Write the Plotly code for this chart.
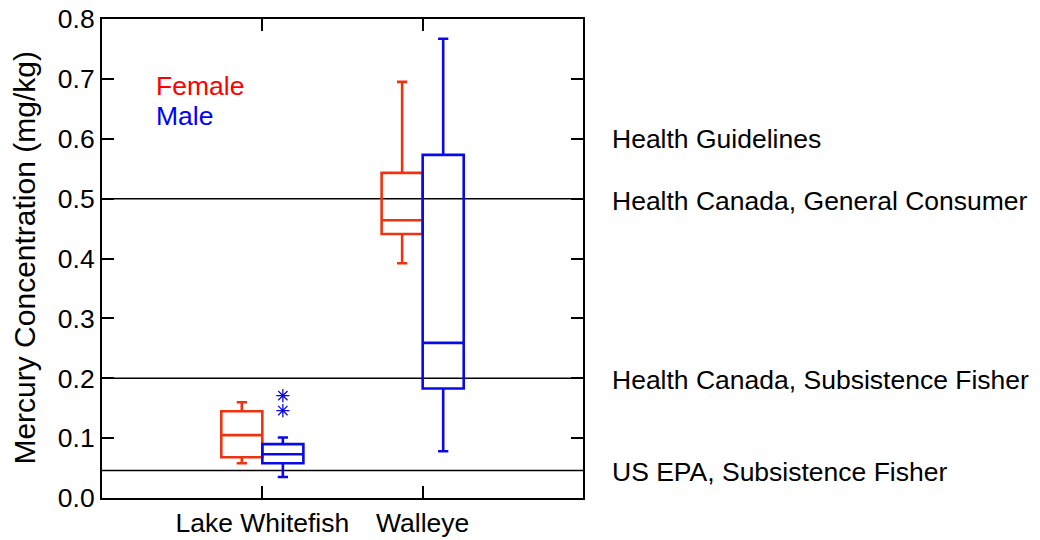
import plotly.graph_objects as go

# ---- data (mg/kg) ----
species = ["Lake Whitefish", "Walleye"]
groups = ["Female", "Male"]

female_lower = [0.058, 0.392]
female_q1 = [0.068, 0.441]
female_median = [0.105, 0.464]
female_q3 = [0.145, 0.543]
female_upper = [0.160, 0.695]

male_lower = [0.035, 0.078]
male_q1 = [0.058, 0.183]
male_median = [0.073, 0.259]
male_q3 = [0.090, 0.573]
male_upper = [0.101, 0.767]

male_outlier_species = ["Lake Whitefish", "Lake Whitefish"]
male_outlier_values = [0.171, 0.146]

guideline_values = [0.5, 0.2, 0.046]
guideline_labels = ["Health Canada, General Consumer",
                    "Health Canada, Subsistence Fisher",
                    "US EPA, Subsistence Fisher"]
guideline_header = "Health Guidelines"
header_value = 0.6

y_ticks = [0.0, 0.1, 0.2, 0.3, 0.4, 0.5, 0.6, 0.7, 0.8]
y_title = "Mercury Concentration (mg/kg)"

# ---- styling ----
FONT = "Liberation Sans, Arial, Helvetica, sans-serif"
FEMALE_COLOR = "#ee3311"
MALE_COLOR = "#0a0ae6"
FEMALE_TEXT = "#ff0000"
MALE_TEXT = "#0000ff"
TXT = 26.5

box_width = 0.256
offset = 0.128
cat_pos = {s: i + 1 for i, s in enumerate(species)}

fig = go.Figure()

fig.add_trace(go.Box(
    x=[cat_pos[s] - offset for s in species],
    lowerfence=female_lower, q1=female_q1, median=female_median,
    q3=female_q3, upperfence=female_upper,
    width=box_width, whiskerwidth=0.25, boxpoints=False,
    line=dict(color=FEMALE_COLOR, width=2.6),
    fillcolor="rgba(0,0,0,0)", name="Female", showlegend=False,
    hoverinfo="skip",
))
fig.add_trace(go.Box(
    x=[cat_pos[s] + offset for s in species],
    lowerfence=male_lower, q1=male_q1, median=male_median,
    q3=male_q3, upperfence=male_upper,
    width=box_width, whiskerwidth=0.25, boxpoints=False,
    line=dict(color=MALE_COLOR, width=2.6),
    fillcolor="rgba(0,0,0,0)", name="Male", showlegend=False,
    hoverinfo="skip",
))
fig.add_trace(go.Scatter(
    x=[cat_pos[s] + offset for s in male_outlier_species],
    y=male_outlier_values, mode="markers",
    marker=dict(symbol="asterisk-open", size=11, color=MALE_COLOR,
                line=dict(color=MALE_COLOR, width=1.3)),
    showlegend=False, hoverinfo="skip",
))

# guideline lines
for v in guideline_values:
    fig.add_shape(type="line", xref="paper", x0=0, x1=1, yref="y", y0=v, y1=v,
                  line=dict(color="black", width=1.5), layer="below")

# right-side labels
fig.add_annotation(text=guideline_header, xref="paper", x=1.056, xanchor="left",
                   yref="y", y=header_value, yanchor="middle", showarrow=False,
                   font=dict(size=TXT, color="black", family=FONT))
for v, lab in zip(guideline_values, guideline_labels):
    fig.add_annotation(text=lab, xref="paper", x=1.056, xanchor="left",
                       yref="y", y=v, yanchor="middle", yshift=-2, showarrow=False,
                       font=dict(size=TXT, color="black", family=FONT))

# legend-like labels
fig.add_annotation(text=groups[0], xref="paper", x=0.108, xanchor="left",
                   yref="paper", y=0.860, yanchor="middle", showarrow=False,
                   font=dict(size=TXT, color=FEMALE_TEXT, family=FONT))
fig.add_annotation(text=groups[1], xref="paper", x=0.108, xanchor="left",
                   yref="paper", y=0.798, yanchor="middle", showarrow=False,
                   font=dict(size=TXT, color=MALE_TEXT, family=FONT))

# y-axis title
fig.add_annotation(text=y_title, textangle=-90, xref="paper", x=-0.162,
                   xanchor="center", yref="paper", y=0.5, yanchor="middle",
                   showarrow=False, font=dict(size=30, color="black", family=FONT))

fig.update_layout(
    width=1040, height=540,
    margin=dict(l=102, r=457, t=19, b=42),
    plot_bgcolor="white", paper_bgcolor="white",
    font=dict(family=FONT, size=TXT, color="black"),
    showlegend=False,
    xaxis=dict(
        range=[0, len(species) + 1],
        tickmode="array",
        tickvals=[cat_pos[s] for s in species],
        ticktext=species,
        ticks="inside", ticklen=12, tickwidth=2, tickcolor="black",
        showline=True, linecolor="black", linewidth=2, mirror="ticks",
        showgrid=False, zeroline=False, automargin=False,
        ticklabeloverflow="allow",
        tickfont=dict(size=TXT, family=FONT),
    ),
    yaxis=dict(
        range=[0, 0.8],
        tickmode="array", tickvals=y_ticks,
        ticktext=[f"{t:.1f}" for t in y_ticks],
        ticks="inside", ticklen=12, tickwidth=2, tickcolor="black",
        showline=True, linecolor="black", linewidth=2, mirror="ticks",
        showgrid=False, zeroline=False, automargin=False,
        ticklabeloverflow="allow",
        tickfont=dict(size=TXT, family=FONT),
    ),
)

fig.write_html("out.html",
               config={"displayModeBar": False},
               post_script="document.body.style.margin='0';"
                           "document.body.style.overflow='hidden';")
